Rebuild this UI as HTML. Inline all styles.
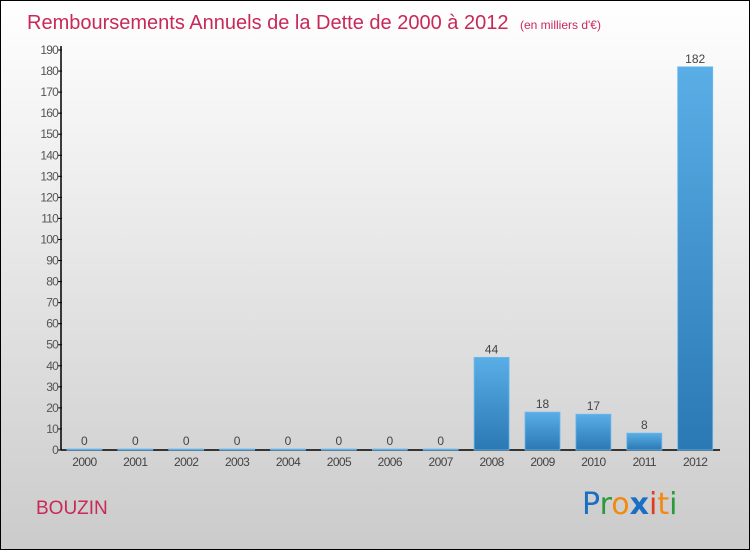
<!DOCTYPE html>
<html><head><meta charset="utf-8"><style>
html,body{margin:0;padding:0}
body{width:750px;height:550px;overflow:hidden;font-family:"Liberation Sans",sans-serif}
</style></head><body>
<svg width="750" height="550" xmlns="http://www.w3.org/2000/svg">
<defs>
<linearGradient id="bg" x1="0" y1="0" x2="0" y2="1"><stop offset="0" stop-color="#ffffff"/><stop offset="1" stop-color="#cbcbcb"/></linearGradient>
<linearGradient id="bar" x1="0" y1="0" x2="0" y2="1"><stop offset="0" stop-color="#5aaee6"/><stop offset="1" stop-color="#2a78b4"/></linearGradient>
</defs>
<rect x="0.5" y="0.5" width="749" height="549" fill="url(#bg)" stroke="#000"/>
<text x="27" y="29" font-size="20" fill="#c8285a">Remboursements Annuels de la Dette de 2000 à 2012 <tspan font-size="12" dx="6">(en milliers d'€)</tspan></text>
<text x="36" y="514" font-size="19" fill="#c8285a">BOUZIN</text>
<g font-size="30" font-family="'DejaVu Sans',sans-serif">
<text x="582" y="514"><tspan fill="#1a6fc4">P</tspan><tspan fill="#2a9a3a">r</tspan><tspan fill="#f08a10">o</tspan><tspan fill="#1a6fc4" font-weight="bold">x</tspan><tspan fill="#e03a20">i</tspan><tspan fill="#f08a10">t</tspan><tspan fill="#2a9a3a">i</tspan></text>
</g>
<g id="axes"></g>
<g id="bars"></g>
</svg>
<script>
const categories=["2000","2001","2002","2003","2004","2005","2006","2007","2008","2009","2010","2011","2012"];
const values=[0,0,0,0,0,0,0,0,44,18,17,8,182];
const yTicks=[0,10,20,30,40,50,60,70,80,90,100,110,120,130,140,150,160,170,180,190];
const NS="http://www.w3.org/2000/svg";
const x0=61,x1=720,yBase=450,yTop=50,yMax=190;
const y=v=>yBase-(v/yMax)*(yBase-yTop);
const step=50.9,first=84.4;
const xc=i=>first+i*step;
const bw=35;
function mk(t,a,p){const e=document.createElementNS(NS,t);for(const k in a)e.setAttribute(k,a[k]);p.appendChild(e);return e;}
const ax=document.getElementById('axes'),bg=document.getElementById('bars');
const yl=mk('line',{x1:x0,y1:yTop-4,x2:x0,y2:yBase,stroke:'#000','stroke-width':1.5},ax);


const xl=mk('line',{x1:x0,y1:yBase,x2:x1,y2:yBase,stroke:'#000','stroke-width':1.5},ax);


yTicks.forEach(v=>{
 const tk=mk('line',{x1:x0-3,y1:y(v),x2:x0+1,y2:y(v),stroke:'#000'},ax);
 
 
 const t=mk('text',{x:x0-3,y:y(v)+4,'font-size':12,'text-anchor':'end',fill:'#555','letter-spacing':'-0.8'},ax);
 t.textContent=v;
 
 
});
categories.forEach((c,i)=>{
 const v=values[i];
 const h=Math.max(yBase-y(v),1);
 const r=mk('rect',{x:xc(i)-bw/2,y:yBase-h,width:bw,height:h,fill:'url(#bar)',stroke:'#6bb8ee','stroke-width':0.8},bg);
 
 
 const vl=mk('text',{x:xc(i),y:yBase-h-4,'font-size':12,'text-anchor':'middle',fill:'#444'},bg);
 vl.textContent=v;
 
 
 const xt=mk('text',{x:xc(i),y:yBase+16,'font-size':12,'text-anchor':'middle',fill:'#444','letter-spacing':'-0.6'},ax);
 xt.textContent=c;
 
 
});
</script>
</body></html>
